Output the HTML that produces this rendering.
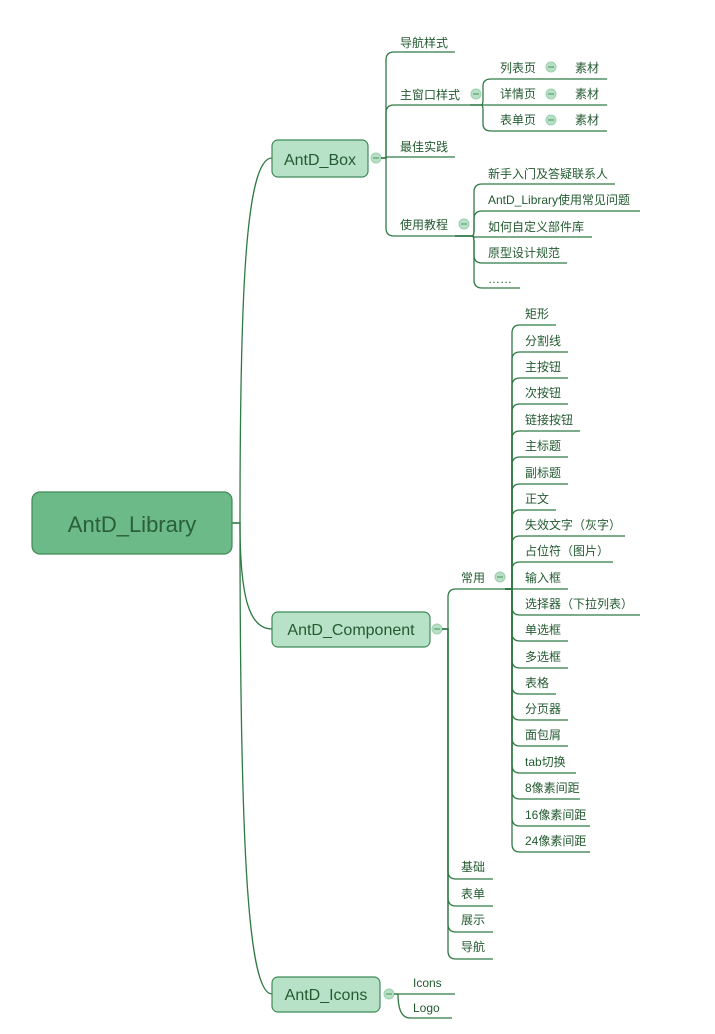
<!DOCTYPE html>
<html><head><meta charset="utf-8"><style>
html,body{margin:0;padding:0;background:#fff;}
svg text{font-family:"Liberation Sans","Noto Sans CJK SC",sans-serif;fill:#235a30;font-size:12px;}
.l{fill:none;stroke:#2f7a44;stroke-width:1.3;}
.c{fill:#b8e0c6;stroke:#9ccfae;stroke-width:1;}
.m{stroke:#5a9e6e;stroke-width:1.2;}
</style></head><body>
<svg width="715" height="1029" viewBox="0 0 715 1029" xmlns="http://www.w3.org/2000/svg">
<!-- root connectors -->
<path class="l" d="M232,523 H240 C240,300 245,158 272,158"/>
<path class="l" d="M232,523 H240 C240,600 250,629 272,629"/>
<path class="l" d="M232,523 H240 C240,850 248,994 272,994"/>
<!-- root -->
<rect x="32" y="492" width="200" height="62" rx="8" fill="#6bba88" stroke="#3f8a57" stroke-width="1.2"/>
<text x="132" y="532" text-anchor="middle" style="font-size:22px;fill:#2a5f38">AntD_Library</text>
<!-- Box -->
<rect x="272" y="140" width="96" height="37" rx="6" fill="#b8e2c8" stroke="#3f8a57" stroke-width="1.2"/>
<text x="320" y="165" text-anchor="middle" style="font-size:16px">AntD_Box</text>
<circle class="c" cx="376" cy="158" r="5"/><line class="m" x1="373" y1="158" x2="379" y2="158"/>
<path class="l" d="M381,158 H386 V60 Q386,52 394,52 H455"/>
<path class="l" d="M381,158 H386 V113 Q386,105 394,105 H470"/>
<path class="l" d="M381,158 H386 V157 H455"/>
<path class="l" d="M381,158 H386 V228 Q386,236 394,236 H455"/>
<text x="400" y="47">导航样式</text>
<text x="400" y="99">主窗口样式</text>
<text x="400" y="151">最佳实践</text>
<text x="400" y="229">使用教程</text>
<circle class="c" cx="476" cy="94" r="5"/><line class="m" x1="473" y1="94" x2="479" y2="94"/>
<path class="l" d="M470,105 H481 Q483,105 483,100 V86 Q483,79 491,79 H607"/>
<path class="l" d="M470,105 H607"/>
<path class="l" d="M470,105 H481 Q483,105 483,110 V124 Q483,131 491,131 H607"/>
<text x="500" y="72">列表页</text><text x="500" y="98">详情页</text><text x="500" y="124">表单页</text>
<text x="575" y="72">素材</text><text x="575" y="98">素材</text><text x="575" y="124">素材</text>
<circle class="c" cx="551" cy="67" r="5"/><line class="m" x1="548" y1="67" x2="554" y2="67"/>
<circle class="c" cx="551" cy="94" r="5"/><line class="m" x1="548" y1="94" x2="554" y2="94"/>
<circle class="c" cx="551" cy="120" r="5"/><line class="m" x1="548" y1="120" x2="554" y2="120"/>
<circle class="c" cx="464" cy="224" r="5"/><line class="m" x1="461" y1="224" x2="467" y2="224"/>
<path class="l" d="M455,236 H472 Q474,236 474,230 V192 Q474,184 482,184 H615"/>
<path class="l" d="M455,236 H472 Q474,236 474,230 V219 Q474,211 482,211 H640"/>
<path class="l" d="M455,236 H472 Q474,236 474,237 H592"/>
<path class="l" d="M455,236 H472 Q474,236 474,242 V255 Q474,263 482,263 H567"/>
<path class="l" d="M455,236 H472 Q474,236 474,242 V280 Q474,288 482,288 H520"/>
<text x="488" y="178">新手入门及答疑联系人</text>
<text x="488" y="204">AntD_Library使用常见问题</text>
<text x="488" y="231">如何自定义部件库</text>
<text x="488" y="257">原型设计规范</text>
<text x="488" y="283">……</text>
<!-- Component -->
<rect x="272" y="612" width="158" height="35" rx="6" fill="#b8e2c8" stroke="#3f8a57" stroke-width="1.2"/>
<text x="351" y="635" text-anchor="middle" style="font-size:16px">AntD_Component</text>
<circle class="c" cx="437" cy="629" r="5"/><line class="m" x1="434" y1="629" x2="440" y2="629"/>
<path class="l" d="M442,629 H448 V597 Q448,589 456,589 H510"/>
<path class="l" d="M442,629 H448 V871 Q448,879 456,879 H493"/>
<path class="l" d="M442,629 H448 V898 Q448,906 456,906 H493"/>
<path class="l" d="M442,629 H448 V924 Q448,932 456,932 H493"/>
<path class="l" d="M442,629 H448 V951 Q448,959 456,959 H493"/>
<text x="461" y="582">常用</text>
<text x="461" y="871">基础</text><text x="461" y="898">表单</text><text x="461" y="924">展示</text><text x="461" y="951">导航</text>
<circle class="c" cx="500" cy="577" r="5"/><line class="m" x1="497" y1="577" x2="503" y2="577"/>
<g>
<path class="l" d="M505,589 H512 V333 Q512,325 520,325 H556"/>
<path class="l" d="M505,589 H512 V360 Q512,352 520,352 H568"/>
<path class="l" d="M505,589 H512 V386 Q512,378 520,378 H568"/>
<path class="l" d="M505,589 H512 V412 Q512,404 520,404 H568"/>
<path class="l" d="M505,589 H512 V439 Q512,431 520,431 H580"/>
<path class="l" d="M505,589 H512 V465 Q512,457 520,457 H568"/>
<path class="l" d="M505,589 H512 V492 Q512,484 520,484 H568"/>
<path class="l" d="M505,589 H512 V518 Q512,510 520,510 H556"/>
<path class="l" d="M505,589 H512 V544 Q512,536 520,536 H625"/>
<path class="l" d="M505,589 H512 V570 Q512,562 520,562 H613"/>
<path class="l" d="M505,589 H568"/>
<path class="l" d="M505,589 H512 V607 Q512,615 520,615 H640"/>
<path class="l" d="M505,589 H512 V633 Q512,641 520,641 H568"/>
<path class="l" d="M505,589 H512 V660 Q512,668 520,668 H568"/>
<path class="l" d="M505,589 H512 V686 Q512,694 520,694 H556"/>
<path class="l" d="M505,589 H512 V712 Q512,720 520,720 H568"/>
<path class="l" d="M505,589 H512 V738 Q512,746 520,746 H568"/>
<path class="l" d="M505,589 H512 V765 Q512,773 520,773 H576"/>
<path class="l" d="M505,589 H512 V791 Q512,799 520,799 H580"/>
<path class="l" d="M505,589 H512 V818 Q512,826 520,826 H590"/>
<path class="l" d="M505,589 H512 V844 Q512,852 520,852 H590"/>
</g>
<text x="525" y="318">矩形</text>
<text x="525" y="345">分割线</text>
<text x="525" y="371">主按钮</text>
<text x="525" y="397">次按钮</text>
<text x="525" y="424">链接按钮</text>
<text x="525" y="450">主标题</text>
<text x="525" y="477">副标题</text>
<text x="525" y="503">正文</text>
<text x="525" y="529">失效文字（灰字）</text>
<text x="525" y="555">占位符（图片）</text>
<text x="525" y="582">输入框</text>
<text x="525" y="608">选择器（下拉列表）</text>
<text x="525" y="634">单选框</text>
<text x="525" y="661">多选框</text>
<text x="525" y="687">表格</text>
<text x="525" y="713">分页器</text>
<text x="525" y="739">面包屑</text>
<text x="525" y="766">tab切换</text>
<text x="525" y="792">8像素间距</text>
<text x="525" y="819">16像素间距</text>
<text x="525" y="845">24像素间距</text>
<!-- Icons -->
<rect x="272" y="977" width="108" height="35" rx="6" fill="#b8e2c8" stroke="#3f8a57" stroke-width="1.2"/>
<text x="326" y="1000" text-anchor="middle" style="font-size:16px">AntD_Icons</text>
<circle class="c" cx="389" cy="994" r="5"/><line class="m" x1="386" y1="994" x2="392" y2="994"/>
<path class="l" d="M394,994 H455"/>
<path class="l" d="M394,994 H398 Q398,1018 410,1018 H452"/>
<text x="413" y="987">Icons</text>
<text x="413" y="1012">Logo</text>
</svg>
</body></html>
